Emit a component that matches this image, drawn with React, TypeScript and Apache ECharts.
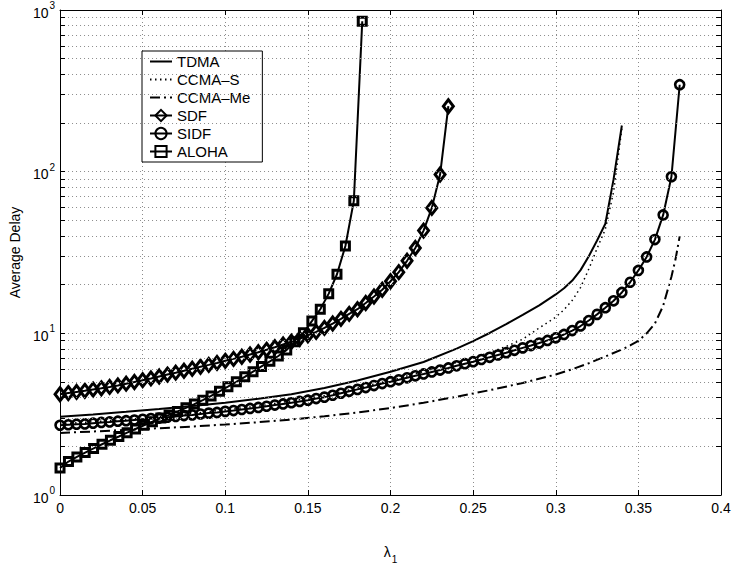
import React, { useEffect, useRef } from "react";
import * as echarts from "echarts";

// ---------- data ----------
const TDMA_X = [0, 0.02, 0.04, 0.06, 0.08, 0.1, 0.12, 0.14, 0.16, 0.18, 0.2, 0.22, 0.24, 0.25, 0.26, 0.27, 0.28, 0.29, 0.3, 0.305, 0.31, 0.315, 0.32, 0.325, 0.33, 0.335, 0.34];
const TDMA_Y = [3.05, 3.15, 3.27, 3.4, 3.55, 3.72, 3.94, 4.2, 4.59, 5.11, 5.78, 6.65, 8.04, 8.95, 10.05, 11.4, 13.0, 14.9, 17.4, 19.0, 21.2, 24.6, 30.0, 37.5, 47.6, 90, 193];

const CCMAS_X = [0, 0.04, 0.08, 0.12, 0.16, 0.2, 0.22, 0.24, 0.26, 0.27, 0.28, 0.29, 0.3, 0.305, 0.31, 0.315, 0.32, 0.325, 0.33, 0.335, 0.34];
const CCMAS_Y = [2.75, 2.93, 3.19, 3.55, 4.12, 5.12, 5.8, 6.6, 7.6, 8.3, 9.2, 10.8, 12.6, 14.0, 16.0, 19.2, 25.0, 33.5, 44, 75, 185];

const CCMAME_X = [0, 0.02, 0.04, 0.06, 0.08, 0.1, 0.12, 0.14, 0.16, 0.18, 0.2, 0.22, 0.24, 0.26, 0.28, 0.3, 0.31, 0.32, 0.33, 0.34, 0.345, 0.35, 0.355, 0.36, 0.365, 0.37, 0.3725, 0.375];
const CCMAME_Y = [2.42, 2.47, 2.53, 2.59, 2.65, 2.73, 2.82, 2.93, 3.07, 3.24, 3.45, 3.72, 4.05, 4.45, 4.93, 5.56, 6.0, 6.53, 7.19, 7.94, 8.41, 8.97, 10.0, 11.5, 14.8, 22.4, 28.8, 39.8];

const SDF_X = [0, 0.005, 0.01, 0.015, 0.02, 0.025, 0.03, 0.035, 0.04, 0.045, 0.05, 0.055, 0.06, 0.065, 0.07, 0.075, 0.08, 0.085, 0.09, 0.095, 0.1, 0.105, 0.11, 0.115, 0.12, 0.125, 0.13, 0.135, 0.14, 0.145, 0.15, 0.155, 0.16, 0.165, 0.17, 0.175, 0.18, 0.185, 0.19, 0.195, 0.2, 0.205, 0.21, 0.215, 0.22, 0.225, 0.23, 0.235];
const SDF_Y = [4.2, 4.27, 4.34, 4.41, 4.49, 4.57, 4.66, 4.76, 4.88, 5.0, 5.13, 5.26, 5.41, 5.56, 5.71, 5.87, 6.04, 6.21, 6.38, 6.56, 6.76, 6.95, 7.16, 7.4, 7.64, 7.91, 8.2, 8.53, 8.87, 9.25, 9.72, 10.2, 10.8, 11.5, 12.3, 13.2, 14.1, 15.4, 16.9, 18.6, 21.0, 23.9, 28.1, 33.7, 43.2, 59.7, 96, 254];

const SIDF_X = [0, 0.005, 0.01, 0.015, 0.02, 0.025, 0.03, 0.035, 0.04, 0.045, 0.05, 0.055, 0.06, 0.065, 0.07, 0.075, 0.08, 0.085, 0.09, 0.095, 0.1, 0.105, 0.11, 0.115, 0.12, 0.125, 0.13, 0.135, 0.14, 0.145, 0.15, 0.155, 0.16, 0.165, 0.17, 0.175, 0.18, 0.185, 0.19, 0.195, 0.2, 0.205, 0.21, 0.215, 0.22, 0.225, 0.23, 0.235, 0.24, 0.245, 0.25, 0.255, 0.26, 0.265, 0.27, 0.275, 0.28, 0.285, 0.29, 0.295, 0.3, 0.305, 0.31, 0.315, 0.32, 0.325, 0.33, 0.335, 0.34, 0.345, 0.35, 0.355, 0.36, 0.365, 0.37, 0.375];
const SIDF_Y = [2.7, 2.72, 2.74, 2.75, 2.78, 2.81, 2.83, 2.86, 2.88, 2.91, 2.94, 2.97, 2.99, 3.03, 3.06, 3.1, 3.13, 3.17, 3.21, 3.24, 3.29, 3.33, 3.38, 3.43, 3.48, 3.54, 3.6, 3.66, 3.72, 3.79, 3.86, 3.95, 4.03, 4.14, 4.26, 4.38, 4.5, 4.62, 4.75, 4.89, 5.02, 5.16, 5.31, 5.46, 5.61, 5.77, 5.93, 6.11, 6.3, 6.49, 6.68, 6.89, 7.11, 7.35, 7.59, 7.85, 8.13, 8.4, 8.71, 9.04, 9.38, 9.84, 10.4, 11.1, 12.0, 13.1, 14.4, 15.9, 17.9, 20.7, 24.5, 29.7, 38.0, 54.0, 93, 345];

const ALOHA_X = [0, 0.0051, 0.0102, 0.0152, 0.0203, 0.0254, 0.0305, 0.0356, 0.0406, 0.0457, 0.0508, 0.0559, 0.061, 0.066, 0.0711, 0.0762, 0.0813, 0.0864, 0.0914, 0.0965, 0.1016, 0.1067, 0.1118, 0.1168, 0.1219, 0.127, 0.1321, 0.1372, 0.1422, 0.1473, 0.1524, 0.1575, 0.1626, 0.1676, 0.1727, 0.1778, 0.1829];
const ALOHA_Y = [1.47, 1.61, 1.72, 1.83, 1.94, 2.06, 2.18, 2.3, 2.43, 2.56, 2.7, 2.84, 2.99, 3.13, 3.29, 3.46, 3.65, 3.86, 4.1, 4.38, 4.68, 5.01, 5.38, 5.79, 6.24, 6.71, 7.24, 7.9, 8.87, 10.1, 11.9, 14.1, 17.6, 23.2, 34.7, 66, 851];

const X_TICKS = [0, 0.05, 0.1, 0.15, 0.2, 0.25, 0.3, 0.35, 0.4];
const Y_DECADES = [1, 10, 100, 1000];
const SERIES_NAMES = ["TDMA", "CCMA\u2013S", "CCMA\u2013Me", "SDF", "SIDF", "ALOHA"];

const FONT = "'Liberation Sans', Arial, Helvetica, sans-serif";

const zip = (xs: number[], ys: number[]) => xs.map((x, i) => [x, ys[i]]);

export default function App() {
  const ref = useRef<HTMLDivElement>(null);

  useEffect(() => {
    document.body.style.margin = "0";
    if (!ref.current) return;
    const chart = echarts.init(ref.current, null, { renderer: "svg" });

    // grid-line positions on the log axis (1..9 x each decade)
    const gridVals: number[] = [];
    for (let d = 0; d < 3; d++) {
      const base = Y_DECADES[d];
      for (let m = 1; m <= 9; m++) {
        if (m === 1 && d === 0) continue;
        gridVals.push(m * base);
      }
    }
    const tickLen = 0.003;
    const tickLines: any[] = [];
    gridVals.forEach((v) => {
      tickLines.push([{ coord: [0, v] }, { coord: [tickLen, v] }]);
      tickLines.push([{ coord: [0.4 - tickLen, v] }, { coord: [0.4, v] }]);
    });

    const black = "#000";
    const lineW = 2;
    const gridColor = "#8c8c8c";

    const markerStyle = {
      color: "rgba(255,255,255,0)",
      borderColor: black,
      borderWidth: 3,
    };
    const noSymbol = { color: "rgba(0,0,0,0)", borderWidth: 0, borderColor: "rgba(0,0,0,0)" };

    const option: any = {
      animation: false,
      backgroundColor: "#fff",
      textStyle: { fontFamily: FONT },
      grid: { left: 52, right: 14, top: 10, bottom: 75, containLabel: false },
      legend: {
        orient: "vertical",
        left: 142,
        top: 51,
        data: [
          { name: SERIES_NAMES[0], itemStyle: noSymbol },
          { name: SERIES_NAMES[1], itemStyle: noSymbol },
          { name: SERIES_NAMES[2], itemStyle: noSymbol },
          { name: SERIES_NAMES[3] },
          { name: SERIES_NAMES[4] },
          { name: SERIES_NAMES[5] },
        ],
        itemWidth: 22,
        itemHeight: 14,
        itemGap: 3,
        padding: [3, 12, 3, 7],
        borderColor: black,
        borderWidth: 1,
        backgroundColor: "#fff",
        borderRadius: 0,
        textStyle: { fontSize: 15, color: black, fontFamily: FONT },
        selectedMode: false,
      },
      xAxis: [
        {
          type: "value",
          min: 0,
          max: 0.4,
          interval: 0.05,
          position: "bottom",
          name: "{l|\u03bb}{s|1}",
          nameLocation: "middle",
          nameGap: 50,
          nameTextStyle: {
            rich: {
              l: { fontSize: 14, fontFamily: FONT, color: black, verticalAlign: "top" },
              s: { fontSize: 10, fontFamily: FONT, color: black, verticalAlign: "top", padding: [9, 0, 0, 1] },
            },
          },
          axisLine: { show: true, onZero: false, lineStyle: { color: black, width: 1 } },
          axisTick: { show: true, inside: true, length: 5, lineStyle: { color: black } },
          axisLabel: {
            margin: 6,
            fontSize: 14,
            color: black,
            fontFamily: FONT,
            formatter: (v: number) => (X_TICKS.some((t) => Math.abs(t - v) < 1e-9) ? String(+v.toFixed(2)) : ""),
          },
          splitLine: { show: true, lineStyle: { color: gridColor, type: [1, 3], width: 1 } },
        },
        {
          type: "value",
          min: 0,
          max: 0.4,
          interval: 0.05,
          position: "top",
          axisLine: { show: true, onZero: false, lineStyle: { color: black, width: 1 } },
          axisTick: { show: true, inside: true, length: 5, lineStyle: { color: black } },
          axisLabel: { show: false },
          splitLine: { show: false },
        },
      ],
      yAxis: [
        {
          type: "log",
          logBase: 10,
          min: 1,
          max: 1000,
          position: "left",
          name: "Average Delay",
          nameLocation: "middle",
          nameGap: 29,
          nameTextStyle: { fontSize: 14, color: black, fontFamily: FONT },
          axisLine: { show: true, onZero: false, lineStyle: { color: black, width: 1 } },
          axisTick: { show: true, inside: true, length: 5, lineStyle: { color: black } },
          axisLabel: {
            margin: 5,
            color: black,
            formatter: (v: number) => `{b|10}{s|${Math.round(Math.log10(v))}}`,
            rich: {
              b: { fontSize: 14, fontFamily: FONT, color: black, verticalAlign: "bottom" },
              s: { fontSize: 10, fontFamily: FONT, color: black, verticalAlign: "bottom", padding: [0, 0, 9, 1] },
            },
          },
          splitLine: { show: false },
        },
        {
          type: "log",
          logBase: 10,
          min: 1,
          max: 1000,
          position: "right",
          axisLine: { show: true, onZero: false, lineStyle: { color: black, width: 1 } },
          axisTick: { show: true, inside: true, length: 5, lineStyle: { color: black } },
          axisLabel: { show: false },
          splitLine: { show: false },
        },
      ],
      series: [
        {
          name: "__grid",
          type: "line",
          data: [],
          silent: true,
          z: 1,
          markLine: {
            silent: true,
            symbol: ["none", "none"],
            label: { show: false },
            animation: false,
            lineStyle: { color: gridColor, type: [1, 3], width: 1 },
            data: gridVals.map((v) => ({ yAxis: v })),
          },
        },
        {
          name: "__ticks",
          type: "line",
          data: [],
          silent: true,
          z: 2,
          markLine: {
            silent: true,
            symbol: ["none", "none"],
            label: { show: false },
            animation: false,
            lineStyle: { color: black, type: "solid", width: 1 },
            data: tickLines,
          },
        },
        {
          name: SERIES_NAMES[0],
          type: "line",
          data: zip(TDMA_X, TDMA_Y),
          symbol: "none",
          lineStyle: { color: black, width: lineW, type: "solid" },
          itemStyle: { color: black },
          z: 3,
        },
        {
          name: SERIES_NAMES[1],
          type: "line",
          data: zip(CCMAS_X, CCMAS_Y),
          symbol: "none",
          lineStyle: { color: black, width: 1.5, type: [1.5, 3.5] },
          itemStyle: { color: black },
          z: 3,
        },
        {
          name: SERIES_NAMES[2],
          type: "line",
          data: zip(CCMAME_X, CCMAME_Y),
          symbol: "none",
          lineStyle: { color: black, width: lineW, type: [10, 4, 2, 4] },
          itemStyle: { color: black },
          z: 3,
        },
        {
          name: SERIES_NAMES[3],
          type: "line",
          data: zip(SDF_X, SDF_Y),
          symbol: "diamond",
          symbolSize: [10, 13],
          showAllSymbol: true,
          lineStyle: { color: black, width: lineW },
          itemStyle: markerStyle,
          z: 4,
        },
        {
          name: SERIES_NAMES[4],
          type: "line",
          data: zip(SIDF_X, SIDF_Y),
          symbol: "circle",
          symbolSize: 9,
          showAllSymbol: true,
          lineStyle: { color: black, width: lineW },
          itemStyle: { ...markerStyle, borderWidth: 2.6 },
          z: 4,
        },
        {
          name: SERIES_NAMES[5],
          type: "line",
          data: zip(ALOHA_X, ALOHA_Y),
          symbol: "rect",
          symbolSize: 8,
          showAllSymbol: true,
          lineStyle: { color: black, width: lineW },
          itemStyle: markerStyle,
          z: 4,
        },
      ],
    };

    chart.setOption(option);
    return () => chart.dispose();
  }, []);

  return <div ref={ref} style={{ width: 735, height: 570 }} />;
}
